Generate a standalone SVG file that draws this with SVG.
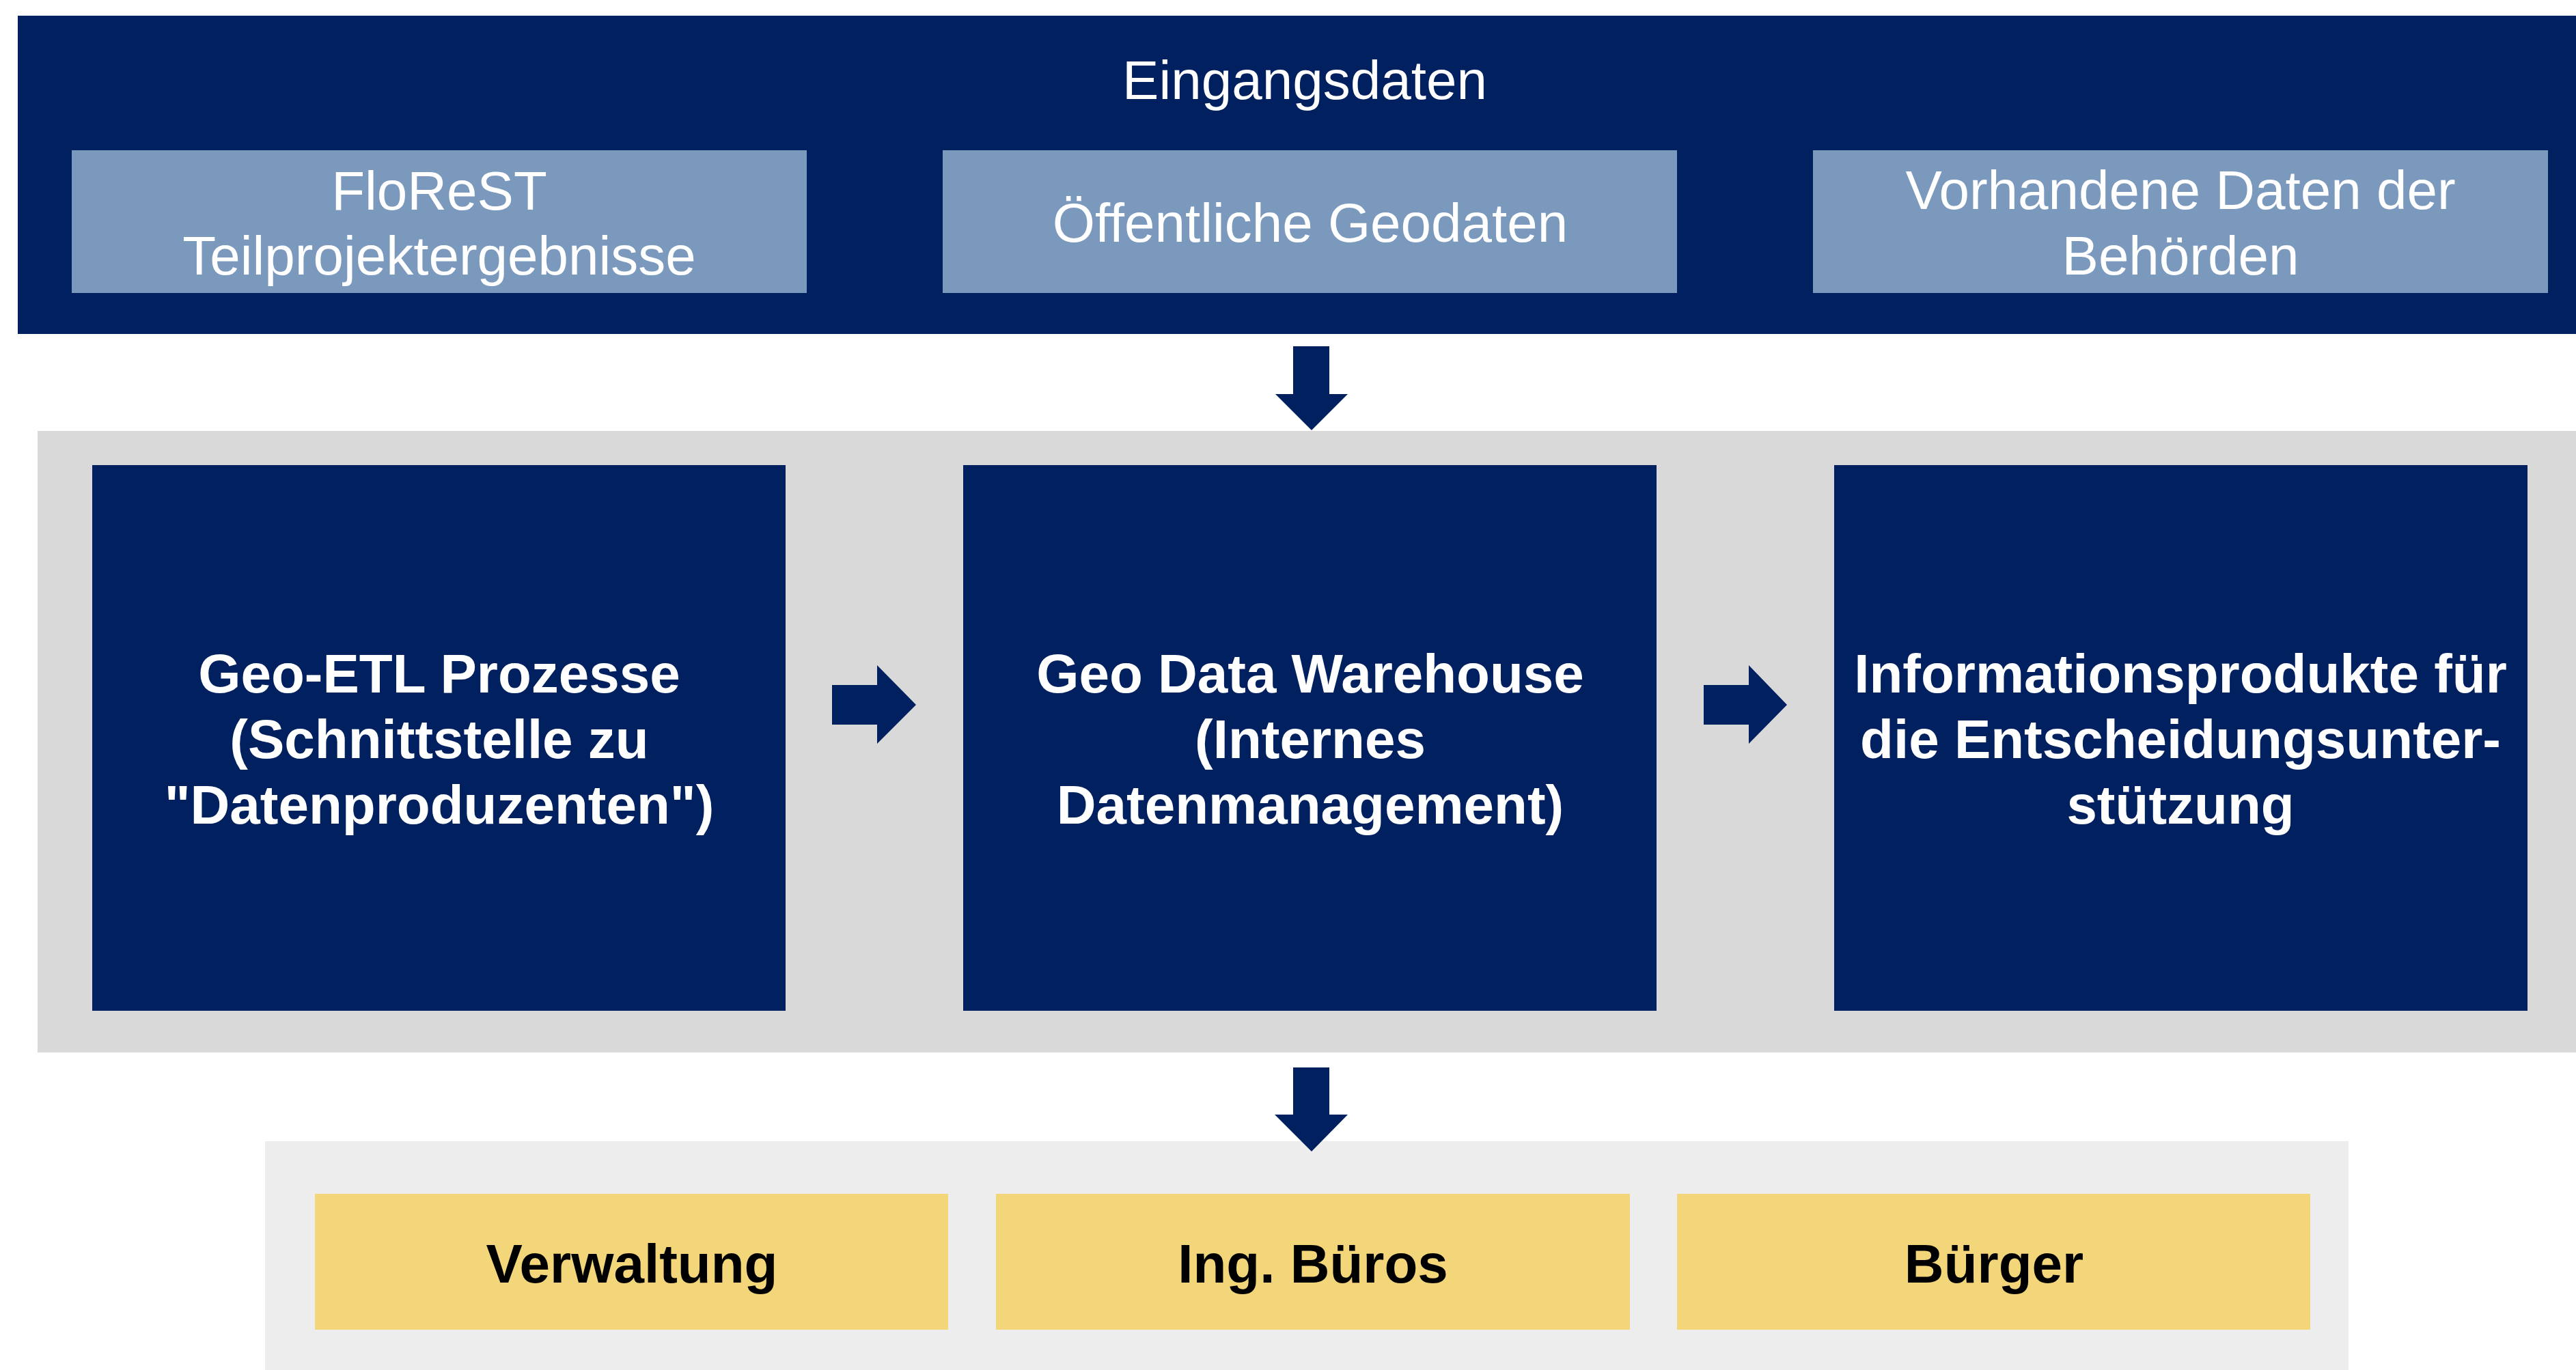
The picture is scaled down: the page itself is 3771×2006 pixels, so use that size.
<svg xmlns="http://www.w3.org/2000/svg" width="3771" height="2006" viewBox="0 0 3771 2006">
<style>
.navy{fill:#002060}
.light{fill:#7B98BD}
.gray{fill:#D9D9D9}
.pale{fill:#EDEDED}
.yellow{fill:#F3D679}
.t{font-family:"Liberation Sans",Arial,sans-serif;font-size:80px;text-anchor:middle}
.w{fill:#FFFFFF}
.b{font-weight:bold}
.k{fill:#000000}
</style>
<rect width="3771" height="2006" fill="#FFFFFF"/>
<g id="eingangsdaten">
<rect class="navy" x="26" y="23" width="3745" height="466"/>
<text class="t w" x="1910" y="145">Eingangsdaten</text>
</g>
<g id="floreST">
<rect class="light" x="105" y="220" width="1076" height="209"/>
<text class="t w" x="643" y="307">FloReST</text>
<text class="t w" x="643" y="402">Teilprojektergebnisse</text>
</g>
<g id="geodaten">
<rect class="light" x="1380" y="220" width="1075" height="209"/>
<text class="t w" x="1918" y="354">Öffentliche Geodaten</text>
</g>
<g id="behoerden">
<rect class="light" x="2654" y="220" width="1076" height="209"/>
<text class="t w" x="3192" y="306">Vorhandene Daten der</text>
<text class="t w" x="3192" y="402">Behörden</text>
</g>
<g id="verarbeitung">
<rect class="gray" x="55" y="631" width="3716" height="910"/>
</g>
<g id="geo-etl">
<rect class="navy" x="135" y="681" width="1015" height="799"/>
<text class="t w b" x="643" y="1014">Geo-ETL Prozesse</text>
<text class="t w b" x="643" y="1110">(Schnittstelle zu</text>
<text class="t w b" x="643" y="1206">"Datenproduzenten")</text>
</g>
<g id="warehouse">
<rect class="navy" x="1410" y="681" width="1015" height="799"/>
<text class="t w b" x="1918" y="1014">Geo Data Warehouse</text>
<text class="t w b" x="1918" y="1110">(Internes</text>
<text class="t w b" x="1918" y="1206">Datenmanagement)</text>
</g>
<g id="informationsprodukte">
<rect class="navy" x="2685" y="681" width="1015" height="799"/>
<text class="t w b" x="3192" y="1014">Informationsprodukte für</text>
<text class="t w b" x="3192" y="1110">die Entscheidungsunter-</text>
<text class="t w b" x="3192" y="1206">stützung</text>
</g>
<g id="nutzer">
<rect class="pale" x="388" y="1671" width="3050" height="335"/>
</g>
<g id="verwaltung">
<rect class="yellow" x="461" y="1748" width="927" height="199"/>
<text class="t k b" x="925" y="1878">Verwaltung</text>
</g>
<g id="ingbueros">
<rect class="yellow" x="1458" y="1748" width="928" height="199"/>
<text class="t k b" x="1922" y="1878">Ing. Büros</text>
</g>
<g id="buerger">
<rect class="yellow" x="2455" y="1748" width="927" height="199"/>
<text class="t k b" x="2919" y="1878">Bürger</text>
</g>
<g id="connectors" class="navy">
<polygon points="1893,507 1946,507 1946,577 1973,577 1920,630 1867,577 1893,577"/>
<polygon points="1893,1563 1946,1563 1946,1632 1973,1632 1920,1686 1866,1632 1893,1632"/>
<polygon points="1218,1003 1284,1003 1284,974 1341,1032 1284,1089 1284,1061 1218,1061"/>
<polygon points="2494,1003 2560,1003 2560,974 2616,1032 2560,1089 2560,1061 2494,1061"/>
</g>
</svg>
